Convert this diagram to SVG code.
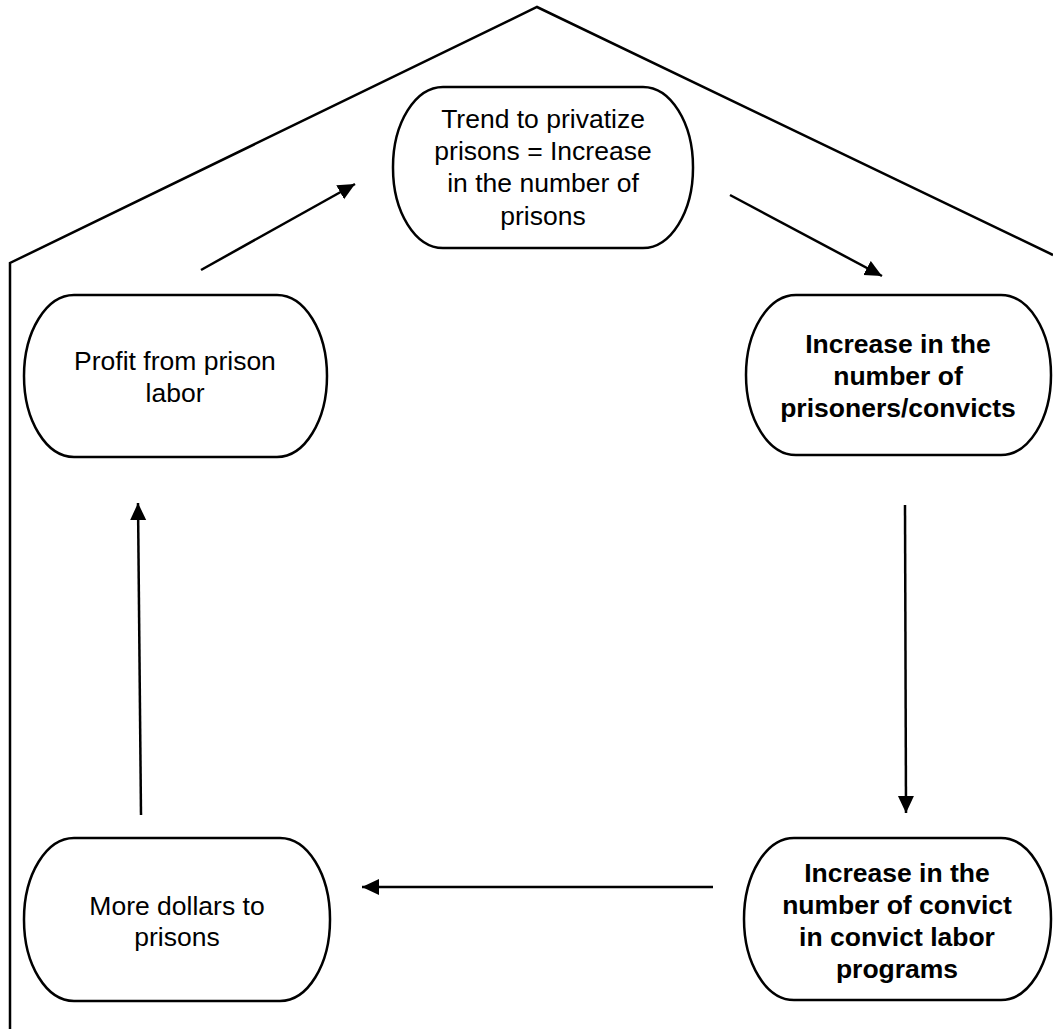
<svg xmlns="http://www.w3.org/2000/svg" width="1053" height="1029" viewBox="0 0 1053 1029">
<defs>
<style>
.node{fill:#fff;stroke:#000;stroke-width:2.5}
.t{font-family:"Liberation Sans",Arial,sans-serif;font-size:26.5px;fill:#000;text-anchor:middle}
.b{font-weight:bold}
.c{stroke:#000;stroke-width:2.5;fill:none}
</style>
<marker id="ah" markerUnits="userSpaceOnUse" markerWidth="20" markerHeight="18" refX="17" refY="8" orient="auto">
<path d="M0,0 L17,8 L0,16 z" fill="#000"/>
</marker>
</defs>
<rect width="1053" height="1029" fill="#fff"/>
<g id="house">
<polyline class="c" points="10,1029 10,263 537,7 1053,255"/>
</g>
<g id="connectors">
<line class="c" x1="201" y1="270" x2="355" y2="184" marker-end="url(#ah)"/>
<line class="c" x1="730" y1="195" x2="882" y2="276" marker-end="url(#ah)"/>
<line class="c" x1="905" y1="505" x2="906" y2="813" marker-end="url(#ah)"/>
<line class="c" x1="713" y1="887" x2="362" y2="887" marker-end="url(#ah)"/>
<line class="c" x1="141" y1="815" x2="138" y2="503" marker-end="url(#ah)"/>
</g>
<g id="node-trend">
<rect class="node" x="393" y="87" width="300" height="161" rx="50" ry="80"/>
<text class="t" x="543" y="128">Trend to privatize</text>
<text class="t" x="543" y="160">prisons = Increase</text>
<text class="t" x="543" y="192">in the number of</text>
<text class="t" x="543" y="225">prisons</text>
</g>
<g id="node-prisoners">
<rect class="node" x="746" y="295" width="305" height="160" rx="50" ry="80"/>
<text class="t b" x="898" y="353">Increase in the</text>
<text class="t b" x="898" y="385">number of</text>
<text class="t b" x="898" y="417">prisoners/convicts</text>
</g>
<g id="node-convict-labor">
<rect class="node" x="744" y="838" width="307" height="162" rx="50" ry="81"/>
<text class="t b" x="897" y="882">Increase in the</text>
<text class="t b" x="897" y="914">number of convict</text>
<text class="t b" x="897" y="946">in convict labor</text>
<text class="t b" x="897" y="978">programs</text>
</g>
<g id="node-dollars">
<rect class="node" x="24" y="838" width="306" height="163" rx="50" ry="81"/>
<text class="t" x="177" y="915">More dollars to</text>
<text class="t" x="177" y="946">prisons</text>
</g>
<g id="node-profit">
<rect class="node" x="24" y="295" width="303" height="162" rx="50" ry="81"/>
<text class="t" x="175" y="370">Profit from prison</text>
<text class="t" x="175" y="402">labor</text>
</g>
</svg>
